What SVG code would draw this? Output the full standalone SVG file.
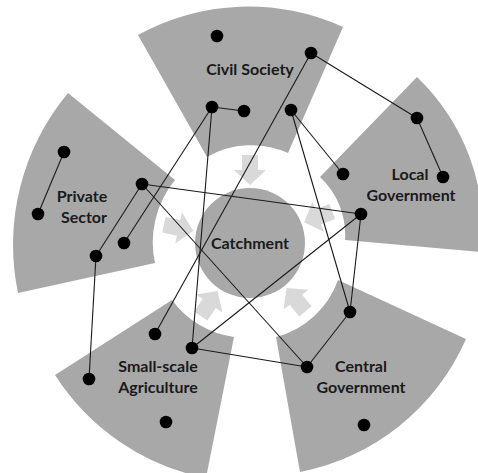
<svg xmlns="http://www.w3.org/2000/svg" width="478" height="473" viewBox="0 0 478 473">
  <style>
    .sector { fill: #a8a8a8; }
    .arrow { fill: #d9d9d9; }
    .lbl { font-family: Lato, "Liberation Sans", sans-serif; font-weight: bold; font-size: 16px; fill: #1a1a1a; text-anchor: middle; }
    .dot { fill: #000; }
    .edge { stroke: #1a1a1a; stroke-width: 1.1; fill: none; }
  </style>
  <defs>
    <polygon id="arr" points="-8,-88 8,-88 8,-73 16,-73 0,-58 -16,-73 -8,-73"/>
  </defs>
  <rect width="478" height="473" fill="#fff"/>

  <g id="arrows" class="arrow">
    <use href="#arr" transform="translate(250,243) rotate(0)"/>
    <use href="#arr" transform="translate(250,243) rotate(69)"/>
    <use href="#arr" transform="translate(250,243) rotate(141)"/>
    <use href="#arr" transform="translate(250,243) rotate(214)"/>
    <use href="#arr" transform="translate(250,243) rotate(282)"/>
  </g>

  <g id="civil-society">
    <path class="sector" d="M138,35 A229,229 0 0,1 343,27 L288,153 A90,90 0 0,0 207,157 Z"/>
    <text class="lbl" x="250" y="75">Civil Society</text>
  </g>
  <g id="local-government">
    <path class="sector" d="M417,77 A214,214 0 0,1 482,252 L345,240 A79,79 0 0,0 320,177 Z"/>
    <text class="lbl" x="410" y="180">Local</text>
    <text class="lbl" x="411" y="201">Government</text>
  </g>
  <g id="central-government">
    <path class="sector" d="M466,339 A229,229 0 0,1 300,472 L276,337 A90,90 0 0,0 338,280 Z"/>
    <text class="lbl" x="361" y="372">Central</text>
    <text class="lbl" x="361" y="393">Government</text>
  </g>
  <g id="small-scale-agriculture">
    <path class="sector" d="M206,478 A233,233 0 0,1 55,375 L172,300 A92,92 0 0,0 234,337 Z"/>
    <text class="lbl" x="158" y="372">Small-scale</text>
    <text class="lbl" x="158" y="393">Agriculture</text>
  </g>
  <g id="private-sector">
    <path class="sector" d="M18,293 A237,237 0 0,1 68,93 L175,180 A98,98 0 0,0 155,263 Z"/>
    <text class="lbl" x="82" y="202">Private</text>
    <text class="lbl" x="84" y="223">Sector</text>
  </g>
  <g id="catchment">
    <circle class="sector" cx="250" cy="243" r="55"/>
    <text class="lbl" x="250" y="249">Catchment</text>
  </g>

  <g id="connectors" class="edge">
    <line x1="212" y1="107" x2="244" y2="111"/>
    <line x1="212" y1="107" x2="124" y2="243"/>
    <line x1="212" y1="107" x2="192" y2="348"/>
    <line x1="311" y1="53" x2="155" y2="334"/>
    <line x1="311" y1="53" x2="417" y2="118"/>
    <line x1="417" y1="118" x2="443" y2="177"/>
    <line x1="291" y1="110" x2="343" y2="174"/>
    <line x1="291" y1="110" x2="350" y2="312"/>
    <line x1="361" y1="214" x2="350" y2="312"/>
    <line x1="350" y1="312" x2="307" y2="367"/>
    <line x1="142" y1="184" x2="307" y2="367"/>
    <line x1="192" y1="348" x2="307" y2="367"/>
    <line x1="192" y1="348" x2="361" y2="214"/>
    <line x1="142" y1="184" x2="361" y2="214"/>
    <line x1="142" y1="184" x2="96" y2="256"/>
    <line x1="96" y1="256" x2="89" y2="379"/>
    <line x1="64" y1="152" x2="38" y2="214"/>
  </g>

  <g id="nodes" class="dot">
    <circle id="cs1" cx="217" cy="36" r="6.3"/>
    <circle id="cs2" cx="311" cy="53" r="6.3"/>
    <circle id="cs3" cx="212" cy="107" r="6.3"/>
    <circle id="cs4" cx="244" cy="111" r="6.3"/>
    <circle id="cs5" cx="291" cy="110" r="6.3"/>
    <circle id="lg1" cx="417" cy="118" r="6.3"/>
    <circle id="lg2" cx="343" cy="174" r="6.3"/>
    <circle id="lg3" cx="443" cy="177" r="6.3"/>
    <circle id="lg4" cx="361" cy="214" r="6.3"/>
    <circle id="ps1" cx="64" cy="152" r="6.3"/>
    <circle id="ps2" cx="38" cy="214" r="6.3"/>
    <circle id="ps3" cx="142" cy="184" r="6.3"/>
    <circle id="ps4" cx="124" cy="243" r="6.3"/>
    <circle id="ps5" cx="96" cy="256" r="6.3"/>
    <circle id="sa1" cx="155" cy="334" r="6.3"/>
    <circle id="sa2" cx="192" cy="348" r="6.3"/>
    <circle id="sa3" cx="89" cy="379" r="6.3"/>
    <circle id="sa4" cx="166" cy="422" r="6.3"/>
    <circle id="cg1" cx="350" cy="312" r="6.3"/>
    <circle id="cg2" cx="307" cy="367" r="6.3"/>
    <circle id="cg3" cx="364" cy="425" r="6.3"/>
  </g>
</svg>
